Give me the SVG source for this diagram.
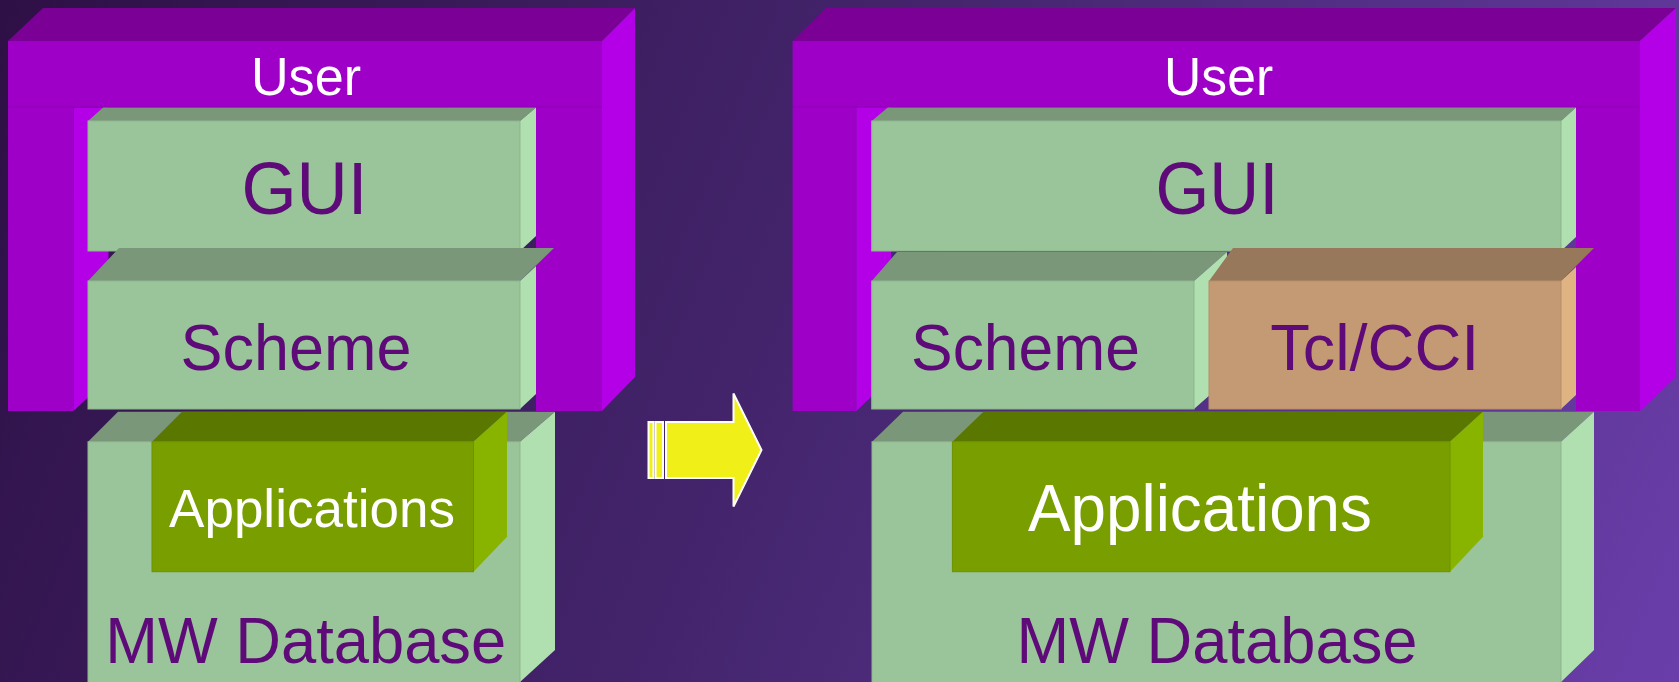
<svg xmlns="http://www.w3.org/2000/svg" width="1679" height="682" viewBox="0 0 1679 682">
<defs>
<linearGradient id="bg" x1="0" y1="0" x2="1679" y2="682" gradientUnits="userSpaceOnUse">
<stop offset="0" stop-color="#2E1046"/>
<stop offset="0.5" stop-color="#45266F"/>
<stop offset="1" stop-color="#6A3EAA"/>
</linearGradient>
<style>
.ut{fill:#7A0096}.uf{fill:#9E00C8}.us{fill:#B400E6}
.gt{fill:#7A977A}.gf{fill:#9AC49A;stroke:#8DB58D;stroke-width:1}.gs{fill:#B0E0B0}
.at{fill:#5A7800}.af{fill:#789E00;stroke:#6E9200;stroke-width:1}.as{fill:#88B400}
.tt{fill:#98785A}.tf{fill:#C49A74;stroke:#B88E68;stroke-width:1}.ts{fill:#E0B482}
text{font-family:"Liberation Sans",Arial,sans-serif;text-anchor:middle}
.pt{fill:#5E0A78}.wt{fill:#FFFFFF}
.arr{fill:#F0F018;stroke:#FFFFFF;stroke-width:2}
</style>
</defs>
<rect width="1679" height="682" fill="url(#bg)"/>

<!-- LEFT PANEL -->
<g id="user-left">
<polygon class="ut" points="8,41 43,8 635,8 602,41"/>
<path class="uf" d="M8,41 H602 V411 H536 V107 H73.5 V411 H8 Z"/>
<line x1="8" y1="107" x2="602" y2="107" stroke="#8A00B0" stroke-width="1"/>
<polygon class="us" points="602,41 635,8 635,377 602,411"/>
<polygon class="us" points="73.5,107.5 108.5,107.5 108.5,378 73.5,411"/>
<text class="wt" x="306" y="95" font-size="53" textLength="110" lengthAdjust="spacingAndGlyphs">User</text>
</g>
<g id="gui-left">
<polygon class="gt" points="88,121 103,107.5 536,107.5 520,121"/>
<polygon class="gs" points="520,121 536,107.5 536,236 520,251"/>
<rect class="gf" x="88" y="121" width="432" height="130"/>
<text class="pt" x="304.5" y="214" font-size="75" textLength="126" lengthAdjust="spacingAndGlyphs">GUI</text>
</g>
<g id="scheme-left">
<polygon class="gt" points="88,281 119,248 554,248 520,281"/>
<polygon class="gs" points="520,281 536,266 536,394 520,409"/>
<rect class="gf" x="88" y="281" width="432" height="128"/>
<text class="pt" x="296" y="370" font-size="65" textLength="231" lengthAdjust="spacingAndGlyphs">Scheme</text>
</g>
<g id="mwdb-left">
<polygon class="gt" points="88,441.7 118,411.7 555,411.7 520,441.7"/>
<polygon class="gs" points="520,441.7 555,411.7 555,650 520,682"/>
<rect class="gf" x="88" y="441.7" width="432" height="241"/>
<text class="pt" x="305.7" y="663.3" font-size="65" textLength="401" lengthAdjust="spacingAndGlyphs">MW Database</text>
</g>
<g id="apps-left">
<polygon class="at" points="152,441.7 182,411.7 507,411.7 473.5,441.7"/>
<polygon class="as" points="473.5,441.7 507,411.7 507,536.7 473.5,571.7"/>
<rect class="af" x="152" y="441.7" width="321.5" height="130"/>
<text class="wt" x="312" y="526.7" font-size="53" textLength="286" lengthAdjust="spacingAndGlyphs">Applications</text>
</g>

<!-- RIGHT PANEL -->
<g id="user-right">
<polygon class="ut" points="792.6,41 826,8 1676,8 1640,41"/>
<path class="uf" d="M792.6,41 H1640 V411 H1576 V107 H856.3 V411 H792.6 Z"/>
<line x1="792.6" y1="107" x2="1640" y2="107" stroke="#8A00B0" stroke-width="1"/>
<polygon class="us" points="1640,41 1676,8 1676,377 1640,411"/>
<polygon class="us" points="856.3,107.5 891,107.5 891,378 856.3,411"/>
<text class="wt" x="1218.6" y="95" font-size="53" textLength="109" lengthAdjust="spacingAndGlyphs">User</text>
</g>
<g id="gui-right">
<polygon class="gt" points="871.7,121 887.8,107.5 1576,107.5 1561,121"/>
<polygon class="gs" points="1561,121 1576,107.5 1576,237 1561,251"/>
<rect class="gf" x="871.7" y="121" width="689.3" height="130"/>
<text class="pt" x="1217" y="214" font-size="75" textLength="123" lengthAdjust="spacingAndGlyphs">GUI</text>
</g>
<g id="scheme-right">
<polygon class="gt" points="871.7,281 897,252 1227,252 1194,281"/>
<polygon class="gs" points="1194,281 1227,252 1227,380 1194,409"/>
<rect class="gf" x="871.7" y="281" width="322.3" height="128"/>
<text class="pt" x="1025.5" y="370" font-size="65" textLength="229" lengthAdjust="spacingAndGlyphs">Scheme</text>
</g>
<g id="tclcci-right">
<polygon class="tt" points="1209,281 1233,248 1594,248 1561,281"/>
<polygon class="ts" points="1561,281 1576,267 1576,395 1561,409"/>
<rect class="tf" x="1209" y="281" width="352" height="128"/>
<text class="pt" x="1374.8" y="370" font-size="65" textLength="209" lengthAdjust="spacingAndGlyphs">Tcl/CCI</text>
</g>
<g id="mwdb-right">
<polygon class="gt" points="872,441.7 903,411.7 1594,411.7 1561,441.7"/>
<polygon class="gs" points="1561,441.7 1594,411.7 1594,650 1561,682"/>
<rect class="gf" x="872" y="441.7" width="689" height="241"/>
<text class="pt" x="1217" y="663.3" font-size="65" textLength="401" lengthAdjust="spacingAndGlyphs">MW Database</text>
</g>
<g id="apps-right">
<polygon class="at" points="952.4,441.7 983.4,411.7 1483,411.7 1450,441.7"/>
<polygon class="as" points="1450,441.7 1483,411.7 1483,536.7 1450,571.7"/>
<rect class="af" x="952.4" y="441.7" width="497.6" height="130"/>
<text class="wt" x="1200" y="530.7" font-size="67" textLength="344" lengthAdjust="spacingAndGlyphs">Applications</text>
</g>

<g id="connectors">
<rect class="arr" x="648.5" y="422" width="5" height="56"/>
<rect class="arr" x="655.5" y="422" width="7.5" height="56"/>
<polygon class="arr" points="666,422 733.5,422 733.5,393.5 761.5,450 733.5,506.5 733.5,478 666,478"/>
</g>
</svg>
